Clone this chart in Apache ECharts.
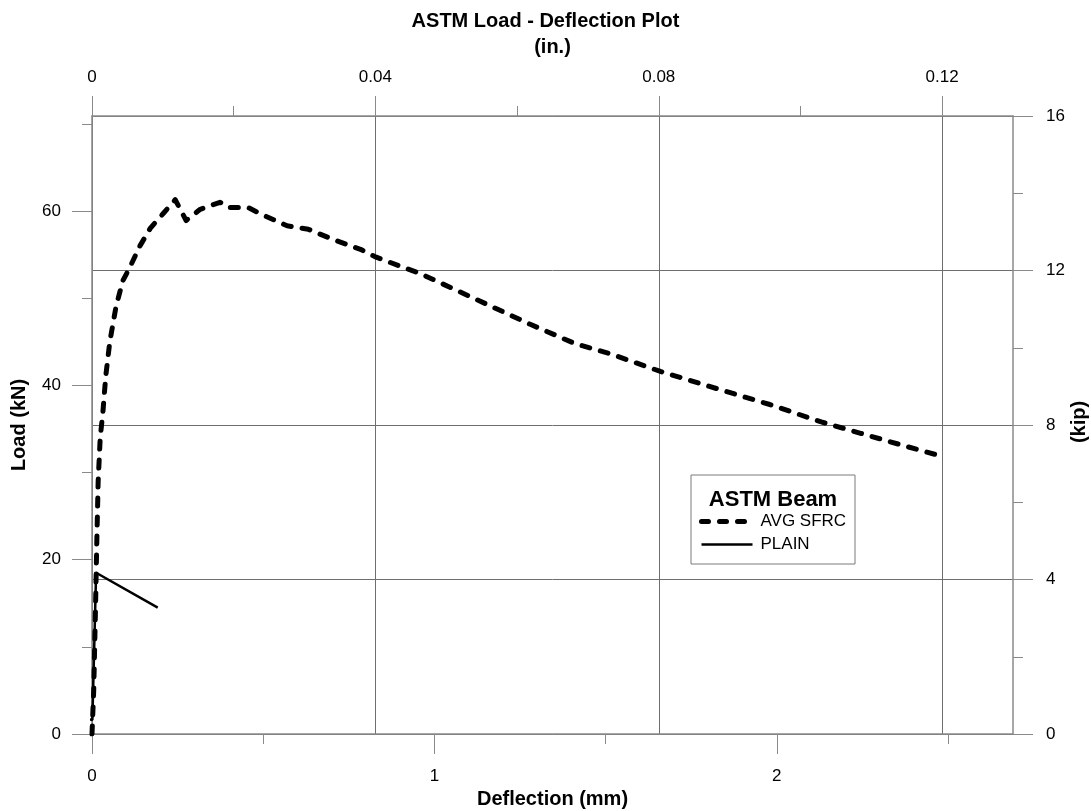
<!DOCTYPE html>
<html>
<head>
<meta charset="utf-8">
<title>ASTM Load - Deflection Plot</title>
<script src="https://cdn.jsdelivr.net/npm/echarts@6/dist/echarts.min.js"></script>
<style>
  html, body { margin: 0; padding: 0; background: #fff; }
  #chart { width: 1091px; height: 811px; }
</style>
</head>
<body>
<div id="chart"></div>
<script>
// deflection (mm) / load (kN)
const sfrcDeflection = [0, 0.005, 0.010, 0.014, 0.018, 0.024, 0.032, 0.040, 0.052, 0.070, 0.090, 0.110, 0.140, 0.170, 0.210, 0.243,
  0.275, 0.316, 0.374, 0.398, 0.456, 0.491, 0.570, 0.632, 0.700, 0.784, 0.830, 0.960, 1.120, 1.280, 1.410,
  1.515, 1.660, 1.835, 1.980, 2.130, 2.245, 2.360, 2.488];
const sfrcLoad = [0, 5, 14, 22, 29, 34, 37, 41, 45, 49, 52, 53.5, 56, 58, 59.8, 61.3,
  58.9, 60.2, 61.0, 60.4, 60.4, 59.7, 58.3, 57.9, 56.8, 55.6, 54.7, 52.8, 49.9, 47.0, 44.8,
  43.6, 41.6, 39.5, 37.8, 35.8, 34.5, 33.2, 31.8];

const plainDeflection = [-0.012, 0.001, 0.012, 0.192];
const plainLoad = [1.7, 1.6, 18.5, 14.5];

// tick values
const mmTicks = [0, 1, 2];
const mmMinorTicks = [0.5, 1.5, 2.5];
const inTicks = [0, 0.04, 0.08, 0.12];
const inMinorTicks = [0.02, 0.06, 0.10];
const kNTicks = [0, 20, 40, 60];
const kNMinorTicks = [10, 30, 50, 70];
const kipTicks = [0, 4, 8, 12, 16];
const kipMinorTicks = [2, 6, 10, 14];

const FONT = "'Liberation Sans', Arial, sans-serif";
const AXIS_GREY = '#8a8a8a';
const GRID_GREY = '#6e6e6e';

const chart = echarts.init(document.getElementById('chart'));

const axisLine = { show: true, onZero: false, lineStyle: { color: AXIS_GREY, width: 1.5 } };
const noLine = { show: false, onZero: false };
const label = (values, margin) => ({
  show: true,
  customValues: values,
  margin: margin,
  color: '#000',
  fontFamily: FONT,
  fontSize: 17,
});
const nameStyle = { color: '#000', fontFamily: FONT, fontSize: 20, fontWeight: 'bold' };

const majorTick = (values) => ({ show: true, customValues: values, length: 20, lineStyle: { color: AXIS_GREY, width: 1 } });
const minorAxisTick = (values) => ({ show: true, customValues: values, length: 10, lineStyle: { color: AXIS_GREY, width: 1 } });

const option = {
  animation: false,
  title: {
    text: 'ASTM Load - Deflection Plot',
    left: 'center',
    top: 6,
    textStyle: { color: '#000', fontFamily: FONT, fontSize: 20, fontWeight: 'bold' },
  },
  grid: { left: 92, right: 78, top: 116, bottom: 77, containLabel: false, outerBoundsMode: 'none' },
  xAxis: [
    {
      type: 'value', position: 'bottom', min: 0, max: 2.69,
      name: 'Deflection (mm)', nameLocation: 'middle', nameGap: 51, nameTextStyle: nameStyle,
      axisLine: axisLine,
      axisTick: majorTick(mmTicks),
      axisLabel: label(mmTicks, 34),
      splitLine: { show: false },
    },
    {
      type: 'value', position: 'bottom', min: 0, max: 2.69,
      axisLine: noLine,
      axisTick: minorAxisTick(mmMinorTicks),
      axisLabel: { show: false },
      splitLine: { show: false },
    },
    {
      type: 'value', position: 'top', min: 0, max: 0.13,
      name: '(in.)', nameLocation: 'middle', nameGap: 59, nameTextStyle: nameStyle,
      axisLine: axisLine,
      axisTick: majorTick(inTicks),
      axisLabel: label(inTicks, 30),
      splitLine: { show: true, lineStyle: { color: GRID_GREY, width: 1 } },
    },
    {
      type: 'value', position: 'top', min: 0, max: 0.13,
      axisLine: noLine,
      axisTick: minorAxisTick(inMinorTicks),
      axisLabel: { show: false },
      splitLine: { show: false },
    },
  ],
  yAxis: [
    {
      type: 'value', position: 'left', min: 0, max: 70.9,
      name: 'Load (kN)', nameLocation: 'middle', nameGap: 63, nameTextStyle: nameStyle,
      axisLine: axisLine,
      axisTick: majorTick(kNTicks),
      axisLabel: label(kNTicks, 31),
      splitLine: { show: false },
    },
    {
      type: 'value', position: 'left', min: 0, max: 70.9,
      axisLine: noLine,
      axisTick: minorAxisTick(kNMinorTicks),
      axisLabel: { show: false },
      splitLine: { show: false },
    },
    {
      type: 'value', position: 'right', min: 0, max: 16,
      axisLine: axisLine,
      axisTick: majorTick(kipTicks),
      axisLabel: label(kipTicks, 33),
      splitLine: { show: true, lineStyle: { color: GRID_GREY, width: 1 } },
    },
    {
      type: 'value', position: 'right', min: 0, max: 16,
      axisLine: noLine,
      axisTick: minorAxisTick(kipMinorTicks),
      axisLabel: { show: false },
      splitLine: { show: false },
    },
  ],
  legend: {
    orient: 'vertical',
    left: 699,
    top: 513,
    padding: 0,
    itemWidth: 51,
    itemHeight: 14,
    itemGap: 6,
    itemStyle: { opacity: 0 },
    textStyle: { color: '#000', fontFamily: FONT, fontSize: 17, padding: [0, 0, 0, 3] },
    data: [
      { name: 'AVG SFRC', lineStyle: { color: '#000', width: 5, type: [7, 11], cap: 'round' } },
      { name: 'PLAIN', lineStyle: { color: '#000', width: 2.5, type: 'solid' } },
    ],
  },
  graphic: [
    {
      // right axis name, drawn separately so it stays inside the page
      type: 'text',
      x: 1079, y: 422,
      rotation: Math.PI / 2,
      style: { text: '(kip)', fill: '#000', font: `bold 20px ${FONT}`, align: 'center', verticalAlign: 'middle' },
    },
    {
      type: 'rect',
      shape: { x: 691, y: 475, width: 164, height: 89 },
      style: { fill: 'rgba(255,255,255,0)', stroke: '#7a7a7a', lineWidth: 1 },
      z: 10,
    },
    {
      type: 'text',
      x: 773, y: 500,
      style: { text: 'ASTM Beam', fill: '#000', font: `bold 22px ${FONT}`, align: 'center', verticalAlign: 'middle' },
      z: 10,
    },
  ],
  series: [
    {
      name: 'AVG SFRC',
      type: 'line',
      xAxisIndex: 0,
      yAxisIndex: 0,
      data: sfrcDeflection.map((d, i) => [d, sfrcLoad[i]]),
      showSymbol: false,
      symbol: 'none',
      lineStyle: { color: '#000', width: 5, type: [8, 11], cap: 'round', join: 'round' },
      itemStyle: { color: '#000' },
      z: 5,
    },
    {
      name: 'PLAIN',
      type: 'line',
      xAxisIndex: 0,
      yAxisIndex: 0,
      data: plainDeflection.map((d, i) => [d, plainLoad[i]]),
      clip: false,
      showSymbol: false,
      symbol: 'none',
      lineStyle: { color: '#000', width: 2.5 },
      itemStyle: { color: '#000' },
      z: 4,
    },
  ],
};

chart.setOption(option);
</script>
</body>
</html>
